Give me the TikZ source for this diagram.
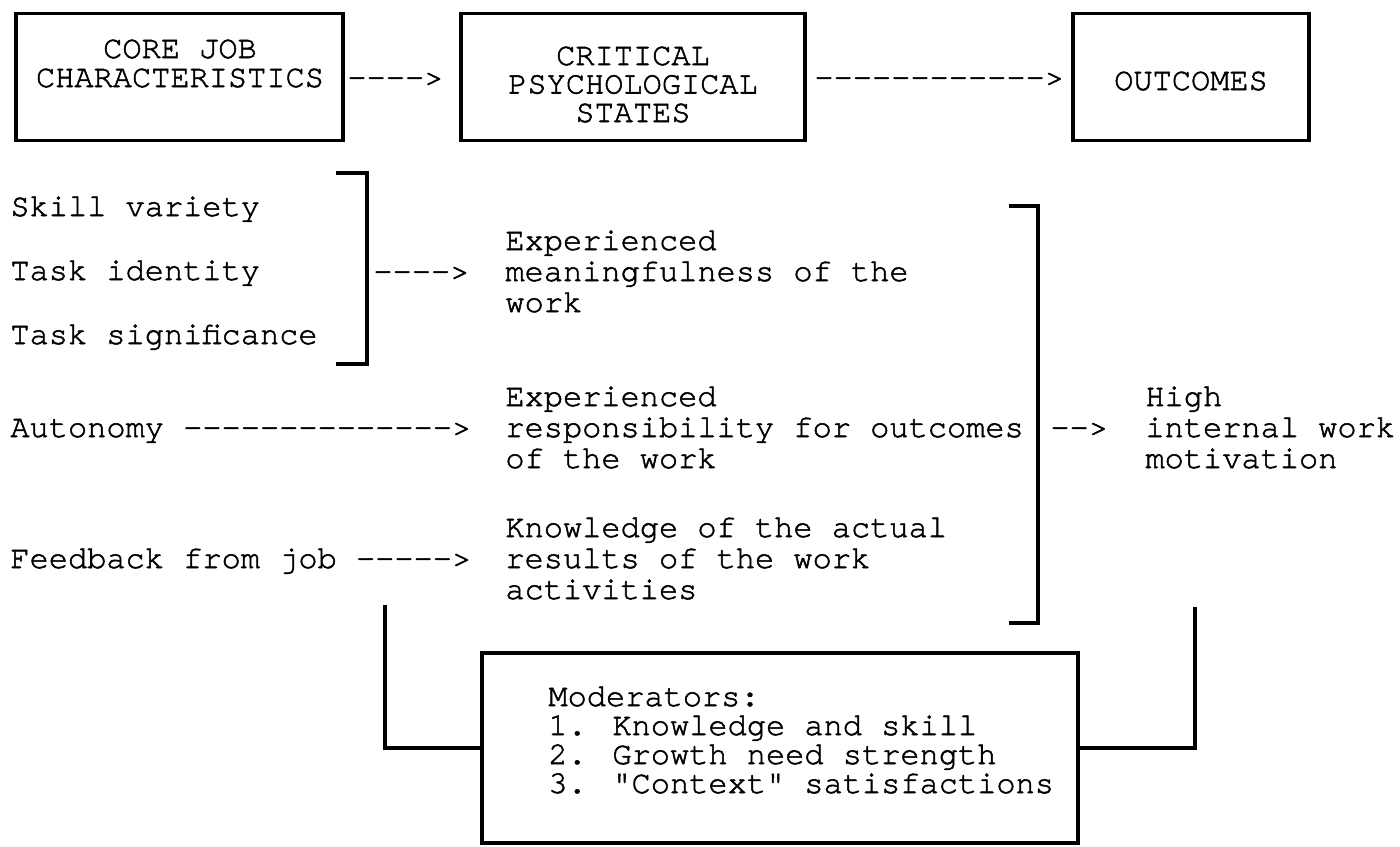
\documentclass[tikz,border=0pt]{standalone}
\usepackage{fontspec}
\newfontfamily\cur{texgyrecursor-regular.otf}[FakeBold=1.6]
\newcommand\lstack[2][15.5pt]{\vtop{\baselineskip=#1\lineskiplimit=-50pt\lineskip=0pt\halign{##\hfil\cr#2\crcr}}}
\newcommand\cstack[2][14.5pt]{\vtop{\baselineskip=#1\lineskiplimit=-50pt\lineskip=0pt\halign{\hfil##\hfil\cr#2\crcr}}}
\tikzset{
  txt/.style={font=\cur\fontsize{16}{16}\selectfont, inner sep=0pt, anchor=base west},
  ctxt/.style={font=\cur\fontsize{16}{16}\selectfont, inner sep=0pt, anchor=base},
  box/.style={draw, line width=1.7pt, inner sep=0pt},
  ln/.style={line width=1.7pt},
}
\begin{document}
\begin{tikzpicture}[x=0.5pt,y=-0.5pt]
\path[use as bounding box, fill=white] (0,0) rectangle (1400,846);

% top boxes
\node[box, minimum width=163.5pt, minimum height=63.5pt] (b1) at (179.5,77) {};
\node[box, minimum width=172pt, minimum height=63.5pt] (b2) at (633,77) {};
\node[box, minimum width=118pt, minimum height=63.5pt] (b3) at (1191,77) {};
\node[ctxt] (b1t) at (180,58) {\cstack{CORE JOB\cr CHARACTERISTICS}};
\node[ctxt] (b2t) at (633,65) {\cstack[14.25pt]{CRITICAL\cr PSYCHOLOGICAL\cr STATES}};
\node[ctxt] (b3t) at (1191,90) {OUTCOMES};
\node[txt] (a1) at (347,87) {---->};
\node[txt] (a2) at (814,87) {------------>};

% left column
\node[txt] (sv) at (10,216) {Skill variety};
\node[txt] (ti) at (10,280) {Task identity};
\node[txt] (ts) at (10,344) {Task significance};
\coordinate (br1a) at (336,173);
\coordinate (br1b) at (367,173);
\coordinate (br1c) at (367,364);
\coordinate (br1d) at (336,364);
\draw[ln] (br1a) -- (br1b) -- (br1c) -- (br1d);
\node[txt] (a3) at (373,281) {---->};
\node[txt] (au) at (10,437) {Autonomy -------------->};
\node[txt] (fb) at (10,568) {Feedback from job ----->};

% middle column
\node[txt] (m1) at (505,250) {\lstack{Experienced\cr meaningfulness of the\cr work}};
\node[txt] (m2) at (505,406) {\lstack{Experienced\cr responsibility for outcomes\cr of the work}};
\node[txt] (m3) at (505,537) {\lstack{Knowledge of the actual\cr results of the work\cr activities}};

% big bracket
\coordinate (br2a) at (1009,206);
\coordinate (br2b) at (1038,206);
\coordinate (br2c) at (1038,623);
\coordinate (br2d) at (1009,623);
\draw[ln] (br2a) -- (br2b) -- (br2c) -- (br2d);
\node[txt] (a4) at (1050,437) {-->};
\node[txt] (hi) at (1145,406) {\lstack{High\cr internal work\cr motivation}};

% moderators
\node[box, minimum width=298pt, minimum height=95pt] (mod) at (780,748) {};
\node[txt] (modt) at (548,706) {\lstack[14.5pt]{Moderators:\cr 1. Knowledge and skill\cr 2. Growth need strength\cr 3. "Context" satisfactions}};
\coordinate (lt) at (385,605);
\coordinate (rt) at (1195,607);
\draw[ln] (lt) |- (mod.west);
\draw[ln] (mod.east) -| (rt);
\end{tikzpicture}
\end{document}
